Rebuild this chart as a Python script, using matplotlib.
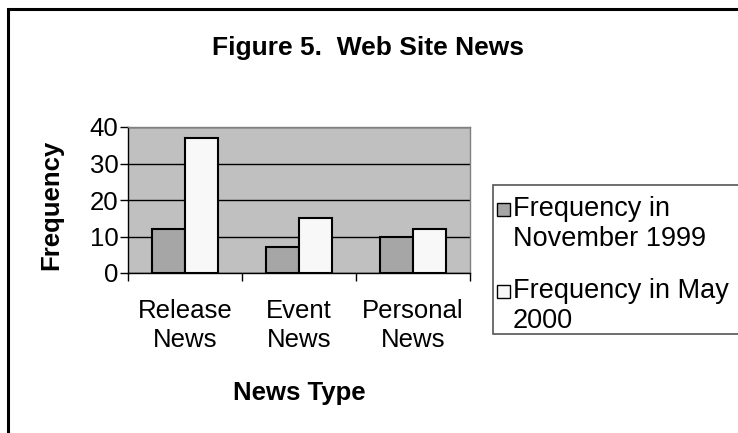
import matplotlib.pyplot as plt
from matplotlib.patches import Rectangle

# datos
categories = ['Release\nNews', 'Event\nNews', 'Personal\nNews']
freq_nov_1999 = [12, 7, 10]
freq_may_2000 = [37, 15, 12]
series_labels = ['Frequency in\nNovember 1999', 'Frequency in May\n2000']
y_ticks = [0, 10, 20, 30, 40]

W, H = 738, 433
color_nov = '#a6a6a6'
color_may = '#f8f8f8'
plot_bg = '#c0c0c0'

plt.rcParams['font.family'] = ['Liberation Sans', 'DejaVu Sans']


def fx(px):
    return px / W


def fy(py):
    return 1 - py / H


fig = plt.figure(figsize=(W / 100, H / 100), dpi=100)
ax = fig.add_axes([fx(128), fy(273), fx(342), 146 / H])
ax.set_facecolor(plot_bg)

x = list(range(len(categories)))
bw = 0.29
ax.bar([i - bw / 2 for i in x], freq_nov_1999, width=bw, color=color_nov,
       edgecolor='black', linewidth=1.5, zorder=3)
ax.bar([i + bw / 2 for i in x], freq_may_2000, width=bw, color=color_may,
       edgecolor='black', linewidth=1.5, zorder=3)

ax.set_xlim(-0.5, len(categories) - 0.5)
ax.set_ylim(0, 40)
ax.set_yticks(y_ticks)
ax.yaxis.grid(True, color='black', linewidth=1.0, zorder=1)

# marcas entre categorias, etiquetas en el centro
ax.set_xticks([i - 0.5 for i in range(len(categories) + 1)])
ax.set_xticklabels([])
ax.set_xticks(x, minor=True)
ax.set_xticklabels(categories, minor=True, fontsize=18.5, linespacing=1.25)
ax.tick_params(axis='x', which='minor', length=0, pad=19)
ax.tick_params(axis='x', which='major', direction='out', length=6, width=1)
ax.tick_params(axis='y', direction='out', length=6, width=1, labelsize=18.5, pad=1)

for side in ['left', 'bottom']:
    ax.spines[side].set_color('black')
    ax.spines[side].set_linewidth(1.0)
for side in ['top', 'right']:
    ax.spines[side].set_color('#808080')
    ax.spines[side].set_linewidth(1.0)

ax.set_ylabel('Frequency', fontsize=18.5, fontweight='bold')
ax.yaxis.set_label_coords(-0.19, 0.47)
ax.set_xlabel('News Type', fontsize=18.5, fontweight='bold')
ax.xaxis.set_label_coords(0.5, -0.74)

fig.text(fx(368), fy(48), 'Figure 5.  Web Site News', fontsize=19,
         fontweight='bold', ha='center', va='center')

# leyenda dibujada a mano (cuadro a la altura de la primera linea)
fig.patches.append(Rectangle((fx(493), fy(334)), fx(300), (334 - 185) / H,
                             transform=fig.transFigure, facecolor='white',
                             edgecolor='#555555', linewidth=1.2))
entry_tops = [201, 283]
for top, lab, col in zip(entry_tops, series_labels, [color_nov, color_may]):
    fig.patches.append(Rectangle((fx(497), fy(top + 15)), fx(13), 13 / H,
                                 transform=fig.transFigure, facecolor=col,
                                 edgecolor='black', linewidth=1.0))
    fig.text(fx(513), fy(top - 5), lab, fontsize=19.5, ha='left', va='top',
             linespacing=1.2)

# borde exterior
fig.patches.append(Rectangle((fx(8), -0.2), 1.2, fy(9) + 0.2,
                             transform=fig.transFigure, fill=False,
                             edgecolor='black', linewidth=2.2))

fig.savefig('out.png', dpi=100)
